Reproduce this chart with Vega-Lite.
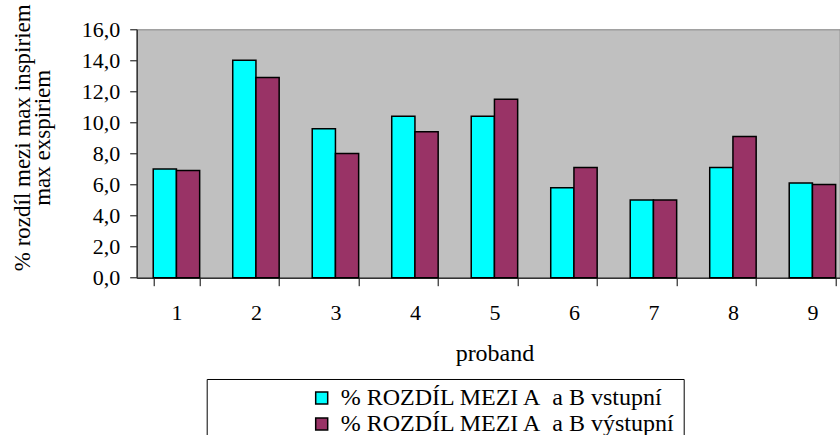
{
  "$schema": "https://vega.github.io/schema/vega-lite/v6.json",
  "width": 703,
  "height": 248.4,
  "autosize": {"type": "none"},
  "padding": {"left": 136.7, "top": 29.3, "right": 0, "bottom": 157.3},
  "config": {
    "font": "'Liberation Serif', 'Times New Roman', serif",
    "view": {"fill": "#C0C0C0", "stroke": "#808080", "strokeWidth": 1},
    "axis": {"grid": false, "labelColor": "#000", "titleColor": "#000", "titleFontWeight": "normal", "domainColor": "#333", "domainWidth": 1.5, "tickColor": "#000", "tickWidth": 1},
    "legend": {"labelColor": "#000"}
  },
  "data": {
    "values": [
      {"proband": "1", "series": "% ROZDÍL MEZI A\u00a0 a B vstupní", "value": 7.0},
      {"proband": "1", "series": "% ROZDÍL MEZI A\u00a0 a B výstupní", "value": 6.9},
      {"proband": "2", "series": "% ROZDÍL MEZI A\u00a0 a B vstupní", "value": 14.0},
      {"proband": "2", "series": "% ROZDÍL MEZI A\u00a0 a B výstupní", "value": 12.9},
      {"proband": "3", "series": "% ROZDÍL MEZI A\u00a0 a B vstupní", "value": 9.6},
      {"proband": "3", "series": "% ROZDÍL MEZI A\u00a0 a B výstupní", "value": 8.0},
      {"proband": "4", "series": "% ROZDÍL MEZI A\u00a0 a B vstupní", "value": 10.4},
      {"proband": "4", "series": "% ROZDÍL MEZI A\u00a0 a B výstupní", "value": 9.4},
      {"proband": "5", "series": "% ROZDÍL MEZI A\u00a0 a B vstupní", "value": 10.4},
      {"proband": "5", "series": "% ROZDÍL MEZI A\u00a0 a B výstupní", "value": 11.5},
      {"proband": "6", "series": "% ROZDÍL MEZI A\u00a0 a B vstupní", "value": 5.8},
      {"proband": "6", "series": "% ROZDÍL MEZI A\u00a0 a B výstupní", "value": 7.1},
      {"proband": "7", "series": "% ROZDÍL MEZI A\u00a0 a B vstupní", "value": 5.0},
      {"proband": "7", "series": "% ROZDÍL MEZI A\u00a0 a B výstupní", "value": 5.0},
      {"proband": "8", "series": "% ROZDÍL MEZI A\u00a0 a B vstupní", "value": 7.1},
      {"proband": "8", "series": "% ROZDÍL MEZI A\u00a0 a B výstupní", "value": 9.1},
      {"proband": "9", "series": "% ROZDÍL MEZI A\u00a0 a B vstupní", "value": 6.1},
      {"proband": "9", "series": "% ROZDÍL MEZI A\u00a0 a B výstupní", "value": 6.0}
    ]
  },
  "mark": {"type": "bar", "stroke": "#000", "strokeWidth": 1.5},
  "encoding": {
    "x": {
      "field": "proband",
      "type": "ordinal",
      "scale": {"range": [0, 715.5], "paddingInner": 0.416, "paddingOuter": 0.208},
      "axis": {
        "labelAngle": 0,
        "tickBand": "extent",
        "labelFontSize": 22,
        "labelPadding": 17,
        "tickSize": 8,
        "title": "proband",
        "titleFontSize": 24,
        "titleBaseline": "alphabetic",
        "titleX": 357.75,
        "titleY": 83
      }
    },
    "xOffset": {
      "field": "series",
      "scale": {"domain": ["% ROZDÍL MEZI A\u00a0 a B vstupní", "% ROZDÍL MEZI A\u00a0 a B výstupní"]}
    },
    "y": {
      "field": "value",
      "type": "quantitative",
      "scale": {"domain": [0, 16], "nice": false},
      "axis": {
        "values": [0, 2, 4, 6, 8, 10, 12, 14, 16],
        "labelExpr": "replace(format(datum.value, '.1f'), '.', ',')",
        "labelFontSize": 22,
        "tickSize": 7,
        "labelPadding": 10,
        "title": ["% rozdíl mezi max inspiriem", "max exspiriem"],
        "titleFontSize": 23,
        "titleAngle": -90,
        "titleAlign": "center",
        "titleBaseline": "alphabetic",
        "titleLineHeight": 20,
        "titleX": -107,
        "titleY": 108
      }
    },
    "color": {
      "field": "series",
      "type": "nominal",
      "scale": {
        "domain": ["% ROZDÍL MEZI A\u00a0 a B vstupní", "% ROZDÍL MEZI A\u00a0 a B výstupní"],
        "range": ["#00FFFF", "#993366"]
      },
      "legend": {
        "title": null,
        "orient": "none",
        "legendX": 70,
        "legendY": 349.7,
        "strokeColor": "#000",
        "padding": 7,
        "symbolOffset": 96,
        "symbolType": "square",
        "symbolSize": 144,
        "symbolStrokeColor": "#000",
        "symbolStrokeWidth": 1.5,
        "labelFontSize": 24,
        "labelOffset": 7,
        "labelLimit": 600,
        "rowPadding": 2
      }
    }
  }
}
